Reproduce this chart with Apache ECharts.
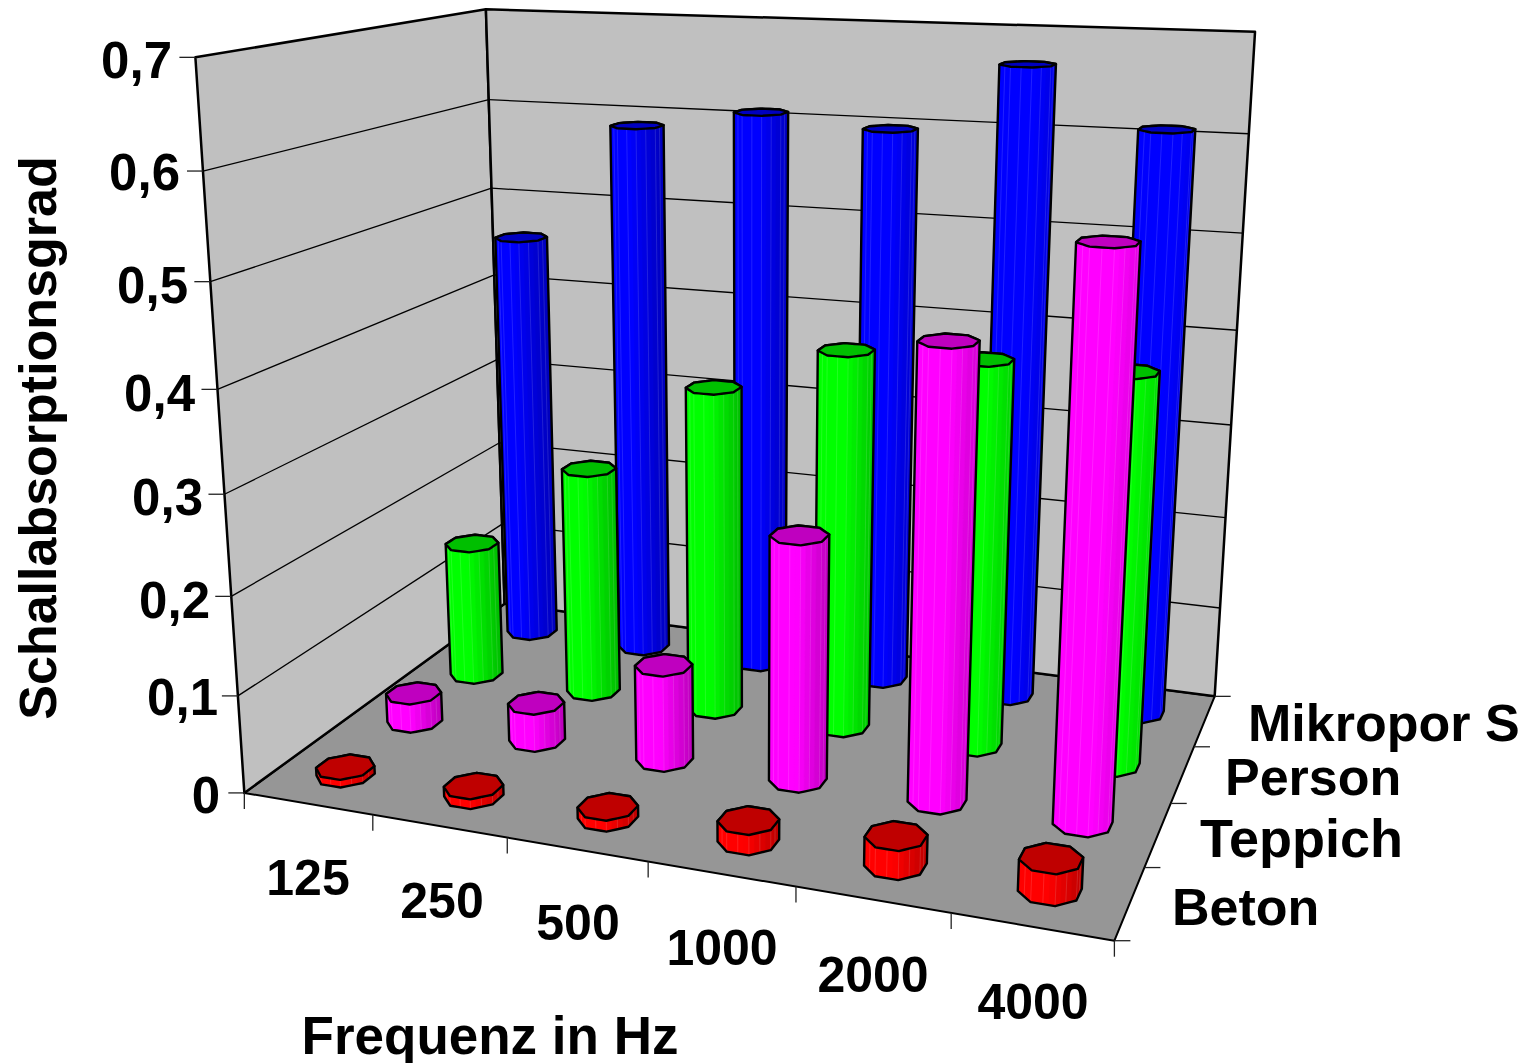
<!DOCTYPE html>
<html><head><meta charset="utf-8">
<style>html,body{margin:0;padding:0;background:#fff}#c{width:1526px;height:1063px}</style>
<script src="https://cdn.jsdelivr.net/npm/echarts@6/dist/echarts.min.js"></script>
</head><body><div id="c"></div>
<script>
const frequencies = ['125','250','500','1000','2000','4000'];
const materials = ['Beton','Teppich','Person','Mikropor S'];
const valueLabels = ['0','0,1','0,2','0,3','0,4','0,5','0,6','0,7'];
const beton    = [0.008,0.01,0.011,0.02,0.028,0.03];
const teppich  = [0.031,0.04,0.10,0.25,0.449,0.548];
const person   = [0.15,0.248,0.348,0.398,0.40,0.40];
const mikropor = [0.46,0.589,0.609,0.598,0.668,0.61];
const seriesValues = [beton,teppich,person,mikropor];
const colors = [[255,0,0],[255,0,255],[0,255,0],[0,0,255]];
const yTitle = 'Schallabsorptionsgrad';
const xTitle = 'Frequenz in Hz';

// Camera calibration: frame corners of the 3D box -> page pixels
const anchors = [
 [0,0,0,245,793],[1,0,0,1114,941],[1,1,0,1215,696],[0,1,0,504,604],
 [0,0,1,195,57],[0,1,1,486,10],[1,1,1,1255,32],[0,0,6/7,203,171],[0,1,6/7,489,99]];
function solveCamera(pts){
  const A=[],b=[];
  pts.forEach(([X,Y,Z,u,v])=>{
    A.push([X,Y,Z,1,0,0,0,0,-u*X,-u*Y,-u*Z]);b.push(u);
    A.push([0,0,0,0,X,Y,Z,1,-v*X,-v*Y,-v*Z]);b.push(v);
  });
  const n=11,M=[];
  for(let i=0;i<n;i++){const r=[];for(let j=0;j<n;j++){let s=0;A.forEach(a=>s+=a[i]*a[j]);r.push(s);}
    let s=0;A.forEach((a,k)=>s+=a[i]*b[k]);r.push(s);M.push(r);}
  for(let c=0;c<n;c++){let p=c;for(let r=c+1;r<n;r++)if(Math.abs(M[r][c])>Math.abs(M[p][c]))p=r;
    [M[c],M[p]]=[M[p],M[c]];
    for(let r=0;r<n;r++){if(r===c)continue;const f=M[r][c]/M[c][c];for(let k=c;k<=n;k++)M[r][k]-=f*M[c][k];}}
  return M.map((r,i)=>r[n]/r[i]);
}
const P=solveCamera(anchors);
function proj(x,d,v){
  const w=P[8]*x+P[9]*d+P[10]*v+1;
  return [(P[0]*x+P[1]*d+P[2]*v+P[3])/w,(P[4]*x+P[5]*d+P[6]*v+P[7])/w];
}
const G={left:100,top:100,width:1200,height:700};
const BAR_X=0.192, BAR_D=0.207;
const font=s=>`bold ${s}px "Liberation Sans", Arial, sans-serif`;

function hull(pts){
  const s=pts.slice().sort((a,b)=>a[0]-b[0]||a[1]-b[1]);
  const cr=(o,a,b)=>(a[0]-o[0])*(b[1]-o[1])-(a[1]-o[1])*(b[0]-o[0]);
  const lo=[],up=[];
  s.forEach(p=>{while(lo.length>1&&cr(lo[lo.length-2],lo[lo.length-1],p)<=0)lo.pop();lo.push(p);});
  s.slice().reverse().forEach(p=>{while(up.length>1&&cr(up[up.length-2],up[up.length-1],p)<=0)up.pop();up.push(p);});
  return lo.slice(0,-1).concat(up.slice(0,-1));
}
const poly=(points,fill,stroke,lw)=>({type:'polygon',silent:true,shape:{points},style:{fill:fill||'none',stroke:stroke||'none',lineWidth:lw||0,lineJoin:'round'}});
const line=(a,b,lw,col)=>({type:'line',silent:true,shape:{x1:a[0],y1:a[1],x2:b[0],y2:b[1]},style:{stroke:col||'#000',lineWidth:lw}});
const text=(t,x,y,align,size,extra)=>Object.assign({type:'text',silent:true,x,y,style:{text:t,font:font(size),fill:'#000',textAlign:align,textVerticalAlign:'middle',align:align,verticalAlign:'middle'}},extra||{});

function renderFrame(params,api){
  const ch=[];
  const nF=frequencies.length,nM=materials.length,nV=valueLabels.length-1;
  ch.push(poly([proj(0,0,0),proj(1,0,0),proj(1,1,0),proj(0,1,0)],'#969696','#000',2));
  ch.push(poly([proj(0,0,0),proj(0,1,0),proj(0,1,1),proj(0,0,1)],'#c0c0c0','#000',2.5));
  ch.push(poly([proj(0,1,0),proj(1,1,0),proj(1,1,1),proj(0,1,1)],'#c0c0c0','#000',2.5));
  const ylab=[[172,60],[180,172],[188,285],[195,393],[203,497],[210,600],[218,697],[220,795]].reverse();
  valueLabels.forEach((t,i)=>{
    const v=i/nV,a=proj(0,0,v),b=proj(0,1,v),c=proj(1,1,v);
    if(i>0&&i<nV){ch.push(line(a,b,1.3));ch.push(line(b,c,1.3));}
    ch.push(line([a[0]-16,a[1]],a,1.3,'#222'));
    ch.push(text(t,ylab[i][0],ylab[i][1],'right',51));
  });
  for(let i=0;i<=nF;i++){const a=proj(i/nF,0,0);ch.push(line(a,[a[0],a[1]+16],1.3,'#222'));}
  for(let i=0;i<=nM;i++){const a=proj(1,i/nM,0);ch.push(line(a,[a[0]+16,a[1]],1.3,'#222'));}
  const xl=[[308,878],[442,901],[578,923],[722,948],[873,975],[1033,1002]];
  frequencies.forEach((t,i)=>ch.push(text(t,xl[i][0],xl[i][1],'center',50)));
  const ml=[[1172,907,52],[1200,838,54],[1225,777,52],[1248,723,52]];
  materials.forEach((t,i)=>ch.push(text(t,ml[i][0],ml[i][1],'left',ml[i][2])));
  ch.push(text(xTitle,490,1035,'center',53));
  ch.push(text(yTitle,38,438,'center',52,{rotation:Math.PI/2}));
  return {type:'group',children:ch};
}

function renderBar(m){
  return function(params,api){
    const i=api.value(0),val=api.value(1);
    const c=api.coord([i,val]);
    const c0=api.coord([i,0]);
    const band=api.size([1,0])[0]/G.width;
    const x=(c[0]-G.left)/G.width, v=(c0[1]-c[1])/G.height;
    const d=(m+0.5)/materials.length;
    const rx=BAR_X*band, rd=BAR_D/materials.length;
    // octagon with subdivided edges
    const ring=[],N=8,S=4;
    for(let k=0;k<N;k++){
      const a0=(k+0.5)/N*2*Math.PI,a1=(k+1.5)/N*2*Math.PI;
      for(let s=0;s<S;s++){const f=s/S;
        ring.push([Math.cos(a0)*(1-f)+Math.cos(a1)*f,Math.sin(a0)*(1-f)+Math.sin(a1)*f]);}
    }
    const R=1/Math.cos(Math.PI/N)*0.96;
    const base=ring.map(q=>proj(x+q[0]*rx*R,d+q[1]*rd*R,0));
    const top=ring.map(q=>proj(x+q[0]*rx*R,d+q[1]*rd*R,v));
    const all=base.concat(top),h=hull(all);
    const minX=Math.min(...all.map(p=>p[0])),maxX=Math.max(...all.map(p=>p[0]));
    const col=colors[m],ch=[];
    ch.push(poly(h,`rgb(${col})`));
    for(let k=0;k<ring.length;k++){
      const n=(k+1)%ring.length;
      const q=[base[k],base[n],top[n],top[k]];
      let A=0;for(let j=0;j<4;j++){const p=q[j],o=q[(j+1)%4];A+=p[0]*o[1]-o[0]*p[1];}
      if(A>=0) continue;
      const mid=(base[k][0]+base[n][0])/2;
      const t=(mid-minX)/(maxX-minX);
      const sh=t<0.45?1:1-0.27*(t-0.45)/0.55;
      const cc=col.map(z=>Math.round(z*sh));
      ch.push(poly(q,`rgb(${cc})`,`rgb(${cc})`,0.6));
      // faint light seam between every other strip
      if(k%2===0){
        const sc=col.map(z=>Math.round(z*sh+(255-z*sh)*0.16));
        ch.push(line(base[k],top[k],0.8,`rgb(${sc})`));
      }
    }
    ch.push(poly(h,null,'#000',2.4));
    ch.push(poly(top,`rgb(${col.map(z=>Math.round(z*0.75))})`,'#000',2.4));
    return {type:'group',children:ch};
  };
}

const series=[{type:'custom',name:'frame',z:1,silent:true,data:[[0,0]],renderItem:renderFrame,clip:false,animation:false}];
materials.slice().reverse().forEach((name,idx)=>{
  const m=materials.length-1-idx;
  series.push({type:'custom',name,z:2+idx,silent:true,clip:false,animation:false,
    data:seriesValues[m].map((v,i)=>[i,v]),encode:{x:0,y:1},renderItem:renderBar(m)});
});
const chart=echarts.init(document.getElementById('c'),null,{renderer:'svg',width:1526,height:1063});
chart.setOption({
  animation:false,backgroundColor:'#fff',
  grid:{left:G.left,top:G.top,width:G.width,height:G.height,show:false},
  xAxis:{type:'category',data:frequencies,show:false},
  yAxis:{type:'value',min:0,max:0.7,interval:0.1,show:false},
  tooltip:{show:false},legend:{show:false},
  series
});
</script></body></html>
